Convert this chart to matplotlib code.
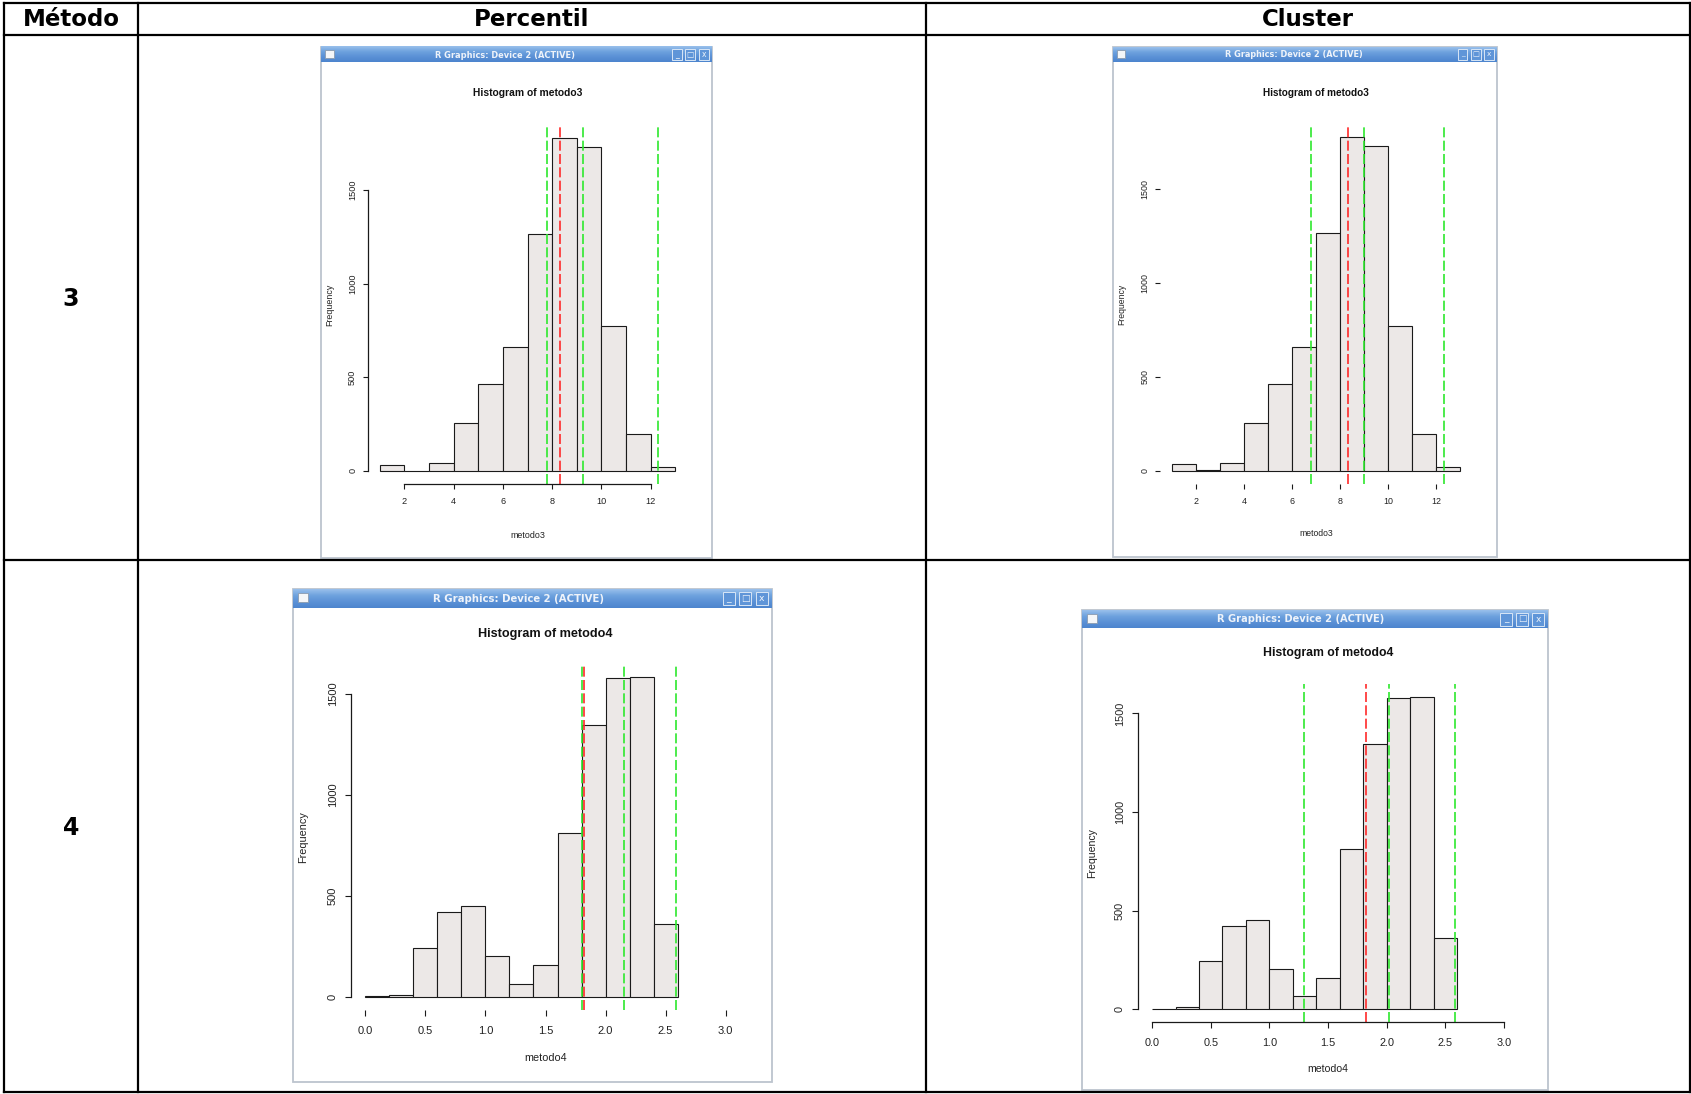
"""Table of R histogram screenshots: Percentil vs Cluster for metodo3 / metodo4."""

import numpy as np
import matplotlib.pyplot as plt
from matplotlib.colors import LinearSegmentedColormap
from matplotlib.patches import Rectangle

W, H = 1691, 1094

# ---- data ----
col_labels = ["Método", "Percentil", "Cluster"]
row_labels = ["3", "4"]

metodo3_edges = [1, 2, 3, 4, 5, 6, 7, 8, 9, 10, 11, 12, 13]
metodo3_counts = [33, 1, 40, 256, 461, 661, 1266, 1777, 1732, 771, 194, 20]
metodo3_xticks = [2, 4, 6, 8, 10, 12]

metodo4_edges = [0.0, 0.2, 0.4, 0.6, 0.8, 1.0, 1.2, 1.4, 1.6, 1.8, 2.0, 2.2, 2.4, 2.6]
metodo4_counts = [4, 11, 245, 422, 452, 205, 67, 161, 815, 1345, 1580, 1586, 360]
metodo4_xlim = (0.0, 3.0)
metodo4_xticks = [0.0, 0.5, 1.0, 1.5, 2.0, 2.5, 3.0]

freq_ticks = [0, 500, 1000, 1500]

percentil3_green = [7.81, 9.25, 12.31]
percentil3_red = 8.33
cluster3_green = [6.79, 9.01, 12.32]
cluster3_red = 8.32
percentil4_green = [1.807, 2.157, 2.584]
percentil4_red = 1.823
cluster4_green = [1.296, 2.019, 2.583]
cluster4_red = 1.823

WIN_TITLE = "R Graphics: Device 2 (ACTIVE)"
BAR_FILL = "#ece8e7"
GREEN = "#2ee82e"
RED = "#ff2a2a"
RFONT = ["Liberation Sans", "DejaVu Sans"]
TITLEBAR = LinearSegmentedColormap.from_list(
    "titlebar", ["#98bfeb", "#6ea2de", "#5b91d6", "#4d85ce"])


def r_lim(lo, hi):
    """R's default 4% axis extension."""
    d = (hi - lo) * 0.04
    return lo - d, hi + d


def px_axes(fig, left, top, right, bottom):
    return fig.add_axes([left / W, 1 - bottom / H, (right - left) / W, (bottom - top) / H])


def draw_window(bg, left, top, right, bottom, s):
    """Fake X11 window frame around an R graphics device."""
    tbh = 18 * s
    bg.add_patch(Rectangle((left, top), right - left, bottom - top,
                           facecolor="white", edgecolor="#bcc4ce", lw=1.3, zorder=1))
    grad = np.linspace(0, 1, 32)[:, None]
    bg.imshow(grad, cmap=TITLEBAR, extent=(left, right, top + tbh, top),
              aspect="auto", zorder=2, interpolation="bilinear")
    # window icon
    bg.add_patch(Rectangle((left + 5 * s, top + 4 * s), 10 * s, 9 * s,
                           facecolor="#f4f6f8", edgecolor="#8a9bb0", lw=0.6, zorder=3))
    # minimise / maximise / close buttons
    for k, glyph in enumerate(["_", "□", "x"]):
        bx = right - (4 + 12 + 16 * (2 - k)) * s
        bg.add_patch(Rectangle((bx, top + 2.5 * s), 12 * s, 13 * s,
                               facecolor="#5f95d8", edgecolor="#d8e6f6", lw=0.7, zorder=3))
        bg.text(bx + 6 * s, top + 9 * s, glyph, color="#eef4fb", fontsize=6.5 * s,
                ha="center", va="center", zorder=4)
    bg.text((left + right) / 2 - 14 * s, top + tbh / 2 + 0.5, WIN_TITLE,
            color="#eef3fa", fontsize=7.1 * s, fontweight="bold", ha="center",
            va="center", family="DejaVu Sans", zorder=4)


def draw_hist(fig, box, s, edges, counts, xlim, xticks, xfmt, green, red, name,
              title_y, xlab_y, ylab_x, show_x, show_y):
    left, top, right, bottom = box
    ax = px_axes(fig, left, top, right, bottom)
    ax.set_facecolor("none")
    edges = np.asarray(edges, dtype=float)
    ax.bar(edges[:-1], counts, width=np.diff(edges), align="edge",
           color=BAR_FILL, edgecolor="#1a1a1a", linewidth=0.8)
    for g in green:
        ax.axvline(g, color=GREEN, lw=1.2, ls=(0, (6, 2)))
    ax.axvline(red, color=RED, lw=1.2, ls=(0, (6, 2)))

    ax.set_xlim(*r_lim(*xlim))
    ax.set_ylim(*r_lim(0, max(counts)))
    ax.set_xticks(xticks)
    ax.set_xticklabels([xfmt.format(t) for t in xticks])
    ax.set_yticks(freq_ticks)
    ax.set_yticklabels([str(t) for t in freq_ticks])

    for side in ("top", "right"):
        ax.spines[side].set_visible(False)
    ax.spines["left"].set_bounds(freq_ticks[0], freq_ticks[-1])
    ax.spines["bottom"].set_bounds(xticks[0], xticks[-1])
    ax.spines["left"].set_visible(show_y)
    ax.spines["bottom"].set_visible(show_x)
    for sp in ax.spines.values():
        sp.set_linewidth(0.9)
        sp.set_color("#1a1a1a")

    ax.tick_params(axis="both", direction="out", length=4.3 * s, width=0.8,
                   color="#1a1a1a", labelsize=7.8 * s, labelcolor="#222222")
    ax.tick_params(axis="x", pad=7 * s)
    ax.tick_params(axis="y", pad=5 * s, labelrotation=90)
    for lbl in ax.get_yticklabels():
        lbl.set_va("center")
        lbl.set_family(RFONT)
    for lbl in ax.get_xticklabels():
        lbl.set_family(RFONT)

    h = bottom - top
    w = right - left
    ax.text(0.5, 1 + (top - title_y) / h, f"Histogram of {name}",
            transform=ax.transAxes, ha="center", va="center",
            fontsize=8.8 * s, fontweight="bold", family=RFONT, color="#111111")
    ax.text(0.5, (bottom - xlab_y) / h, name, transform=ax.transAxes,
            ha="center", va="center", fontsize=7.6 * s, family=RFONT, color="#222222")
    ax.text((ylab_x - left) / w, 0.5, "Frequency", transform=ax.transAxes,
            ha="center", va="center", rotation=90, fontsize=7.6 * s,
            family=RFONT, color="#222222")
    return ax


fig = plt.figure(figsize=(W / 100, H / 100), dpi=100)
bg = fig.add_axes([0, 0, 1, 1])
bg.set_xlim(0, W)
bg.set_ylim(H, 0)
bg.axis("off")
bg.set_zorder(-1)

# ---- table grid ----
xs = [4, 138, 926, 1690]
ys = [3, 35, 560, 1092]
for x in xs:
    bg.plot([x, x], [ys[0], ys[-1]], color="black", lw=1.6, zorder=6,
            solid_capstyle="projecting")
for y in ys:
    bg.plot([xs[0], xs[-1]], [y, y], color="black", lw=1.6, zorder=6,
            solid_capstyle="projecting")

for i, lab in enumerate(col_labels):
    bg.text((xs[i] + xs[i + 1]) / 2, 20, lab, ha="center", va="center",
            fontsize=16.5, fontweight="bold", family="DejaVu Sans")
for j, lab in enumerate(row_labels):
    bg.text((xs[0] + xs[1]) / 2, (ys[j + 1] + ys[j + 2]) / 2 + 2, lab,
            ha="center", va="center", fontsize=17, fontweight="bold",
            family="DejaVu Sans")

# ---- windows + histograms ----
panels = [
    dict(win=(321, 47, 712, 558), s=0.84, box=(368, 125, 687, 484),
         edges=metodo3_edges, counts=metodo3_counts,
         xlim=(metodo3_edges[0], metodo3_edges[-1]), xticks=metodo3_xticks,
         xfmt="{:g}", green=percentil3_green, red=percentil3_red, name="metodo3",
         title_y=93, xlab_y=535, ylab_x=330, show_x=True, show_y=True),
    dict(win=(1113, 47, 1497, 557), s=0.82, box=(1160, 124, 1472, 484),
         edges=metodo3_edges, counts=metodo3_counts,
         xlim=(metodo3_edges[0], metodo3_edges[-1]), xticks=metodo3_xticks,
         xfmt="{:g}", green=cluster3_green, red=cluster3_red, name="metodo3",
         title_y=93, xlab_y=533, ylab_x=1122, show_x=False, show_y=False),
    dict(win=(293, 589, 772, 1082), s=1.03, box=(351, 664, 740, 1010),
         edges=metodo4_edges, counts=metodo4_counts,
         xlim=metodo4_xlim, xticks=metodo4_xticks,
         xfmt="{:.1f}", green=percentil4_green, red=percentil4_red, name="metodo4",
         title_y=634, xlab_y=1058, ylab_x=303, show_x=False, show_y=True),
    dict(win=(1082, 610, 1548, 1090), s=1.0, box=(1138, 684, 1518, 1022),
         edges=metodo4_edges, counts=metodo4_counts,
         xlim=metodo4_xlim, xticks=metodo4_xticks,
         xfmt="{:.1f}", green=cluster4_green, red=cluster4_red, name="metodo4",
         title_y=653, xlab_y=1069, ylab_x=1092, show_x=True, show_y=True),
]

for p in panels:
    draw_window(bg, *p["win"], p["s"])
    draw_hist(fig, p["box"], p["s"], p["edges"], p["counts"], p["xlim"],
              p["xticks"], p["xfmt"], p["green"], p["red"], p["name"],
              p["title_y"], p["xlab_y"], p["ylab_x"], p["show_x"], p["show_y"])

fig.savefig("out.png", dpi=100)
